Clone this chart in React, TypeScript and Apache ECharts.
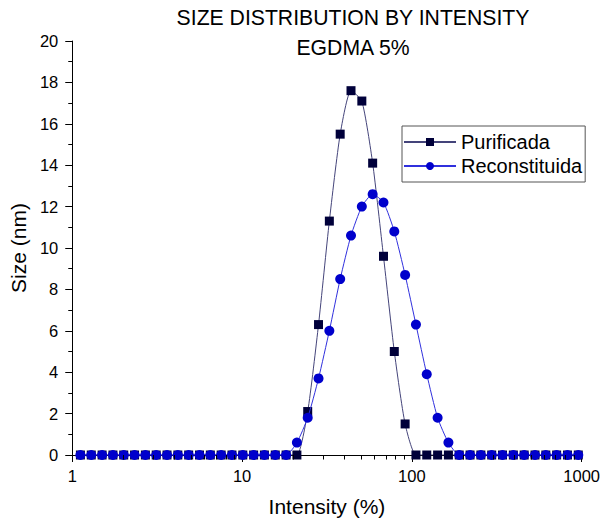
import React, { useEffect, useRef } from "react";
import * as echarts from "echarts";

const sizes = [
  1.117, 1.294, 1.499, 1.736, 2.01, 2.328, 2.696, 3.122, 3.615, 4.187, 4.849, 5.615,
  6.503, 7.531, 8.721, 10.1, 11.7, 13.54, 15.69, 18.17, 21.04, 24.36, 28.21, 32.67,
  37.84, 43.82, 50.75, 58.77, 68.06, 78.82, 91.28, 105.7, 122.4, 141.8, 164.2, 190.1,
  220.2, 255.0, 295.3, 342.0, 396.1, 458.7, 531.2, 615.1, 712.4, 825.0, 955.4,
];

const purificada = [
  0, 0, 0, 0, 0, 0, 0, 0, 0, 0, 0, 0, 0, 0, 0, 0, 0, 0, 0, 0, 0,
  2.1, 6.3, 11.3, 15.5, 17.6, 17.1, 14.1, 9.6, 5.0, 1.5,
  0, 0, 0, 0, 0, 0, 0, 0, 0, 0, 0, 0, 0, 0, 0, 0,
];

const reconstituida = [
  0, 0, 0, 0, 0, 0, 0, 0, 0, 0, 0, 0, 0, 0, 0, 0, 0, 0, 0, 0,
  0.6, 1.8, 3.7, 6.0, 8.5, 10.6, 12.0, 12.6, 12.2, 10.8, 8.7, 6.3, 3.9, 1.8, 0.6,
  0, 0, 0, 0, 0, 0, 0, 0, 0, 0, 0, 0,
];

const xMinorTicks = [2, 3, 4, 5, 6, 7, 8, 9, 20, 30, 40, 50, 60, 70, 80, 90, 200, 300, 400, 500, 600, 700, 800, 900];

const titleLines = ["SIZE DISTRIBUTION BY INTENSITY", "EGDMA 5%"];
const seriesNames = ["Purificada", "Reconstituida"];

const FONT = "'Liberation Sans', Arial, sans-serif";

export default function App() {
  const ref = useRef<HTMLDivElement>(null);
  useEffect(() => {
    if (!ref.current) return;
    const chart = echarts.init(ref.current, null, { renderer: "svg" });
    chart.setOption({
      animation: false,
      backgroundColor: "#ffffff",
      title: {
        text: titleLines.join("\n"),
        left: 353,
        top: 3,
        padding: 0,
        textAlign: "center",
        textStyle: {
          fontFamily: FONT,
          fontSize: 21.2,
          fontWeight: "normal",
          color: "#000",
          lineHeight: 29.5,
        },
      },
      legend: {
        data: seriesNames,
        orient: "vertical",
        left: 402,
        top: 126,
        padding: [4, 3, 4, 1],
        itemGap: 0,
        itemWidth: 52,
        itemHeight: 10,
        borderColor: "#555",
        borderWidth: 1,
        borderRadius: 0,
        textStyle: { fontFamily: FONT, fontSize: 20, color: "#000", lineHeight: 24 },
      },
      grid: { left: 68, right: 20, top: 41, bottom: 68 },
      xAxis: {
        type: "log",
        logBase: 10,
        min: 1,
        max: 1000,
        name: "Intensity (%)",
        nameLocation: "middle",
        nameGap: 41,
        nameTextStyle: { fontFamily: FONT, fontSize: 21, color: "#000" },
        axisLine: { show: true, lineStyle: { color: "#000", width: 1 } },
        axisTick: { show: true, length: 7, lineStyle: { color: "#000" } },
        minorTick: { show: false },
        splitLine: { show: false },
        axisLabel: {
          fontFamily: FONT,
          fontSize: 16.5,
          color: "#000",
          margin: 12,
          formatter: (v: number) => String(Math.round(v)),
        },
      },
      yAxis: {
        type: "value",
        min: 0,
        max: 20,
        interval: 2,
        name: "Size (nm)",
        nameLocation: "middle",
        nameGap: 36,
        nameTextStyle: { fontFamily: FONT, fontSize: 21, color: "#000" },
        axisLine: { show: true, lineStyle: { color: "#000", width: 1 } },
        axisTick: { show: true, length: 7, lineStyle: { color: "#000" } },
        minorTick: { show: true, splitNumber: 2, length: 4, lineStyle: { color: "#000" } },
        splitLine: { show: false },
        axisLabel: { fontFamily: FONT, fontSize: 16.5, color: "#000", margin: 14 },
      },
      series: [
        {
          name: seriesNames[0],
          type: "line",
          data: sizes.map((s, i) => [s, purificada[i]]),
          symbol: "rect",
          symbolSize: 9,
          smooth: 0.2,
          z: 2,
          itemStyle: { color: "#00003a" },
          lineStyle: { color: "#44447a", width: 1 },
        },
        {
          name: seriesNames[1],
          type: "line",
          data: sizes.map((s, i) => [s, reconstituida[i]]),
          symbol: "circle",
          symbolSize: 10,
          smooth: 0.2,
          z: 3,
          itemStyle: { color: "#0000cc" },
          lineStyle: { color: "#3030dd", width: 1 },
        },
        {
          name: "xMinorTicks",
          type: "custom",
          silent: true,
          clip: false,
          z: 12,
          data: xMinorTicks.map((v) => [v, 10]),
          renderItem: (params: any, api: any) => {
            const p = api.coord([api.value(0), 0]);
            const x = Math.round(p[0]) + 0.5;
            const y = Math.round(p[1]);
            return {
              type: "rect",
              shape: { x: x - 0.5, y: y, width: 1, height: 4.5 },
              style: { fill: "#000000" },
            };
          },
        },
      ],
    });
    return () => chart.dispose();
  }, []);
  return (
    <div
      ref={ref}
      style={{ position: "fixed", left: 0, top: 0, width: 603, height: 523, background: "#fff" }}
    />
  );
}
